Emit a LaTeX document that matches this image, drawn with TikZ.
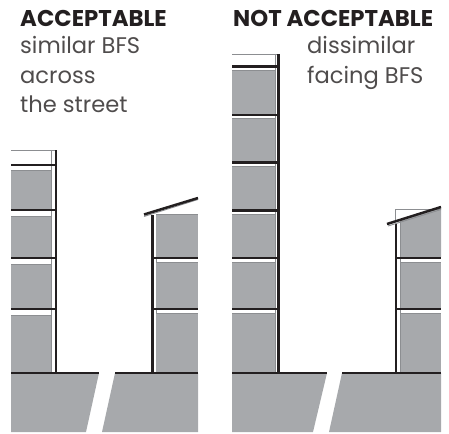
\documentclass[tikz,border=0pt]{standalone}
\usepackage{fontspec}
\setmainfont{Poppins}
\definecolor{roomgrey}{RGB}{167,169,172}
\definecolor{edgegrey}{RGB}{140,142,145}
\definecolor{inkdark}{RGB}{35,31,32}
\begin{document}
\begin{tikzpicture}[x=1pt, y=-1pt,
    headlabel/.style={anchor=base west, inner sep=0pt, font=\fontsize{22.8}{26}\selectfont\bfseries, text=inkdark},
    sublabel/.style={anchor=base west, inner sep=0pt, font=\fontsize{22.6}{26}\selectfont, text=inkdark!80},
    room/.style={fill=roomgrey, draw=edgegrey, line width=0.5pt},
    outline/.style={draw=edgegrey, line width=0.9pt},
    slab/.style={draw=inkdark, line width=2.5pt},
    wall/.style={draw=inkdark, line width=2.6pt}
]
\useasboundingbox (0,0) rectangle (449,433);

% labels
\node[headlabel] (headok) at (20,27) {ACCEPTABLE};
\node[sublabel]  (okone) at (20,54)  {similar BFS};
\node[sublabel]  (oktwo) at (20,84)  {across};
\node[sublabel]  (okthree) at (20,113) {the street};
\node[headlabel] (headno) at (233,27) {NOT ACCEPTABLE};
\node[sublabel]  (noone) at (307,54) {dissimilar};
\node[sublabel]  (notwo) at (307,84) {facing BFS};

% ground
\fill[roomgrey] (11,373) -- (99,373) -- (86,432) -- (11,432) -- cycle;
\fill[roomgrey] (115,373) -- (198,373) -- (198,432) -- (102,432) -- cycle;
\fill[roomgrey] (232,373) -- (327,373) -- (313,432) -- (232,432) -- cycle;
\fill[roomgrey] (342,373) -- (441,373) -- (441,432) -- (329,432) -- cycle;

% first pair, tall side
\draw[outline] (11,150) -- (57,150);
\draw[outline] (51,150) -- (51,373);
\foreach \top/\bot in {170/209, 216/257, 264/308, 315/372}
    \draw[room] (11,\top) -- (51,\top) -- (51,\bot) -- (11,\bot);
\foreach \y in {165,210,258,309}
    \draw[slab] (11,\y) -- (56,\y);
\draw[wall] (56,150) -- (56,373);
\draw[slab] (11,373) -- (99,373);

% first pair, low side
\draw[outline] (156,214) -- (156,373);
\fill[roomgrey] (156,214) rectangle (198,257);
\fill[roomgrey] (156,262) rectangle (198,308);
\fill[roomgrey] (156,313) rectangle (198,372);
\draw[outline] (156,214) -- (198,214);
\foreach \y in {262,313}
    \draw[outline] (156,\y) -- (198,\y);
\foreach \y in {258,309}
    \draw[slab] (152,\y) -- (198,\y);
\draw[wall] (152.5,215) -- (152.5,373);
\draw[outline] (144,216.5) -- (198,199.5);
\draw[slab] (144,214.5) -- (198,198);
\draw[slab] (115,373) -- (198,373);

% second pair, tall side
\draw[outline] (232,54) -- (279,54);
\draw[outline] (275,54) -- (275,373);
\foreach \top/\bot in {70/114, 118/161, 166/209, 214/257, 262/308, 313/372}
    \draw[room] (232,\top) -- (275,\top) -- (275,\bot) -- (232,\bot);
\foreach \y in {66.5,115,162.5,210.5,258,309}
    \draw[slab] (232,\y) -- (279,\y);
\draw[wall] (278.5,54) -- (278.5,373);
\draw[slab] (232,373) -- (327,373);

% second pair, low side
\fill[roomgrey] (400,221) -- (441,208) -- (441,257) -- (400,257) -- cycle;
\fill[roomgrey] (400,262) rectangle (441,308);
\fill[roomgrey] (400,313) rectangle (441,372);
\draw[outline] (400,221) -- (400,373);
\foreach \y in {262,313}
    \draw[outline] (400,\y) -- (441,\y);
\draw[edgegrey, line width=0.6pt] (395,222) -- (395,209) -- (441,209);
\foreach \y in {258,309}
    \draw[slab] (396,\y) -- (441,\y);
\draw[wall] (396,224) -- (396,373);
\draw[outline] (388,226) -- (441,209.5);
\draw[slab] (387,224) -- (441,207);
\draw[slab] (342,373) -- (441,373);
\end{tikzpicture}
\end{document}
